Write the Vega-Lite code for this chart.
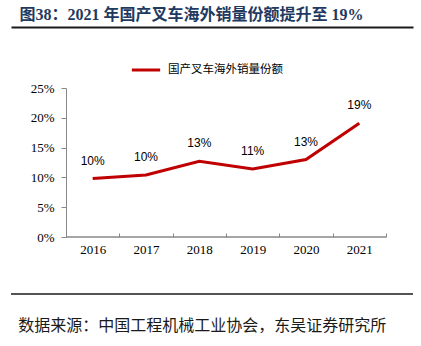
{
  "$schema": "https://vega.github.io/schema/vega-lite/v6.json",
  "background": "white",
  "padding": {"left": 10, "top": 6, "right": 9, "bottom": 0},
  "config": {"view": {"stroke": null}},
  "spacing": 24,
  "resolve": {"legend": {"color": "independent"}},
  "vconcat": [
    {
      "width": 402,
      "height": 149,
      "data": {"values": [
        {"year": "2016", "share": 0.098},
        {"year": "2017", "share": 0.104},
        {"year": "2018", "share": 0.127},
        {"year": "2019", "share": 0.114},
        {"year": "2020", "share": 0.130},
        {"year": "2021", "share": 0.191}
      ]},
      "encoding": {
        "y": {"field": "share", "type": "quantitative",
          "scale": {"domain": [0, 0.25]},
          "axis": {"title": null, "format": ".0%", "values": [0, 0.05, 0.1, 0.15, 0.2, 0.25], "grid": false, "offset": -55, "tickSize": 5, "labelPadding": 7, "domainColor": "#888888", "tickColor": "#888888", "labelFont": "Liberation Serif", "labelFontSize": 13, "labelColor": "#000000"}}
      },
      "resolve": {"axis": {"x": "independent"}, "scale": {"x": "independent"}},
      "layer": [
        {
          "mark": {"type": "rect", "fill": null, "stroke": "#888888", "strokeWidth": 1},
          "encoding": {
            "x": {"field": "year", "type": "ordinal",
              "scale": {"type": "band", "paddingInner": 0, "paddingOuter": 0.769, "align": 0.6707},
              "axis": {"orient": "top", "title": "图38：2021 年国产叉车海外销量份额提升至 19%", "titleFont": "Liberation Serif, Noto Sans CJK SC", "titleFontSize": 16, "titleFontWeight": "bold", "titleColor": "#1f3a60", "titleAnchor": "start", "titleAlign": "left", "titleX": 8, "titlePadding": 5, "domain": true, "domainColor": "#1a1a1a", "domainWidth": 2, "ticks": false, "labels": false, "grid": false, "offset": 61}},
            "y": {"datum": 0, "type": "quantitative"},
            "y2": {"datum": 0}
          }
        },
        {
          "data": {"values": [{"start": 0, "end": 1}]},
          "mark": {"type": "rule", "color": "#1a1a1a", "strokeWidth": 2, "clip": false},
          "encoding": {
            "x": {"field": "start", "type": "quantitative", "axis": null, "scale": {"domain": [0, 1]}},
            "x2": {"field": "end"},
            "y": {"datum": 0.3523, "type": "quantitative"}
          }
        },
        {
          "mark": {"type": "line", "strokeWidth": 3},
          "encoding": {
            "x": {"field": "year", "type": "ordinal", "bandPosition": 0.5,
              "scale": {"type": "band", "paddingInner": 0, "paddingOuter": 0.769, "align": 0.6707},
              "axis": {"orient": "bottom", "title": null, "labelAngle": 0, "domain": false, "tickBand": "extent", "tickSize": -4, "labelPadding": 10, "tickColor": "#888888", "labelFont": "Liberation Serif", "labelFontSize": 13, "labelColor": "#000000"}},
            "color": {"datum": "国产叉车海外销量份额", "type": "nominal",
              "scale": {"range": ["#c00000"]},
              "legend": {"title": null, "orient": "none", "legendX": 119, "legendY": -34, "direction": "horizontal", "symbolType": "stroke", "symbolStrokeWidth": 3, "symbolSize": 800, "labelFont": "Noto Sans CJK SC", "labelFontSize": 11.5, "labelColor": "#000000", "labelOffset": 6}}
          }
        },
        {
          "mark": {"type": "text", "dy": -18, "baseline": "middle", "font": "Liberation Sans", "fontSize": 12, "color": "#000000"},
          "encoding": {
            "x": {"field": "year", "type": "ordinal", "bandPosition": 0.5,
              "scale": {"type": "band", "paddingInner": 0, "paddingOuter": 0.769, "align": 0.6707},
              "axis": null},
            "text": {"field": "share", "type": "quantitative", "format": ".0%"}
          }
        }
      ]
    },
    {
      "title": {"text": "数据来源：中国工程机械工业协会，东吴证券研究所", "orient": "bottom", "anchor": "start", "font": "Noto Sans CJK SC", "fontSize": 16, "fontWeight": "normal", "color": "#1a1a1a", "offset": 10, "dx": 8},
      "width": 402,
      "height": 28,
      "data": {"values": [{"from": 0, "to": 1, "pos": 0.5}]},
      "mark": {"type": "rule", "color": "#1a1a1a", "strokeWidth": 1.5},
      "encoding": {
        "x": {"field": "from", "type": "quantitative", "axis": null, "scale": {"domain": [0, 1]}},
        "x2": {"field": "to"},
        "y": {"field": "pos", "type": "quantitative", "axis": null, "scale": {"domain": [0, 1]}}
      }
    }
  ]
}
